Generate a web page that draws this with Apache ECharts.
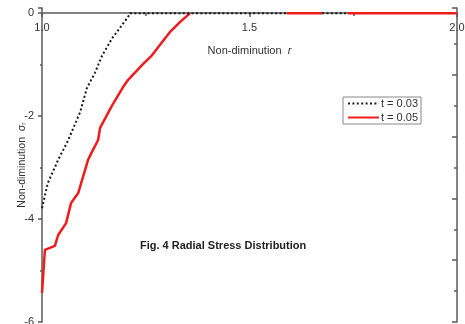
<!DOCTYPE html>
<html>
<head>
<meta charset="utf-8">
<script src="https://cdn.jsdelivr.net/npm/echarts@6/dist/echarts.min.js"></script>
<style>html,body{margin:0;padding:0;background:#fff;}#c{width:465px;height:324px;}</style>
</head>
<body>
<div id="c"></div>
<script>
// Series t = 0.03 (dotted black): [r, sigma_r]
const seriesT003 = [
  [1.000, -3.79], [1.014, -3.30], [1.039, -2.85], [1.063, -2.47], [1.092, -1.92],
  [1.108, -1.46], [1.128, -1.15], [1.145, -0.82], [1.169, -0.49], [1.193, -0.23],
  [1.210, -0.04], [1.212, 0], [1.590, 0], [1.630, '-'], [1.675, 0], [1.737, 0]
];
// Series t = 0.05 (solid red)
const seriesT005 = [
  [1.000, -5.44], [1.007, -4.60], [1.031, -4.52], [1.039, -4.31], [1.058, -4.08],
  [1.070, -3.69], [1.087, -3.50], [1.111, -2.85], [1.120, -2.70], [1.135, -2.47],
  [1.140, -2.23], [1.169, -1.79], [1.195, -1.44], [1.207, -1.30], [1.241, -1.01],
  [1.265, -0.82], [1.284, -0.62], [1.308, -0.37], [1.333, -0.17], [1.357, 0],
  [1.450, '-'], [1.590, 0], [1.675, 0], [1.700, '-'], [1.737, 0], [2.000, 0]
];
const seriesNames = ['t = 0.03', 't = 0.05'];
const xTicks = { min: 1.0, max: 2.0, interval: 0.5 };
const yTicks = { min: -6, max: 0.1, interval: 2 };
const chartTitle = 'Fig. 4 Radial Stress Distribution';

const FONT = '"Liberation Sans", Arial, sans-serif';
const AX = '#5a5a5a';
const chart = echarts.init(document.getElementById('c'));
chart.setOption({
  animation: false,
  textStyle: { fontFamily: FONT },
  grid: { left: 42, right: 8, top: 8, bottom: 2, containLabel: false, outerBoundsMode: 'none' },
  title: {
    text: chartTitle, left: 140, top: 240, padding: 0,
    textStyle: { fontSize: 11, fontWeight: 'bold', color: '#222', fontFamily: FONT }
  },
  legend: {
    orient: 'vertical', left: 343, top: 97,
    data: seriesNames,
    itemWidth: 31, itemHeight: 12, itemGap: 3,
    padding: [1, 3, 1, 4],
    borderColor: '#888', borderWidth: 1,
    itemStyle: { opacity: 0 },
    textStyle: { fontSize: 11, color: '#333', fontFamily: FONT, padding: [0, 0, 0, -3] }
  },
  xAxis: {
    type: 'value', min: xTicks.min, max: xTicks.max, interval: xTicks.interval,
    position: 'top', offset: -5,
    axisLine: { onZero: false, lineStyle: { color: AX, width: 1.5 } },
    axisTick: { show: true, inside: true, length: 4, lineStyle: { color: AX, width: 1.5 } },
    minorTick: { show: true, splitNumber: 2, length: 3, lineStyle: { color: AX, width: 1.5 } },
    splitLine: { show: false },
    axisLabel: { inside: true, fontSize: 11, color: '#333', margin: 9, formatter: v => v.toFixed(1) },
    name: 'Non-diminution  {it|r}', nameLocation: 'middle', nameGap: -43, nameMoveOverlap: false,
    nameTextStyle: { fontSize: 11, color: '#333', rich: { it: { fontStyle: 'italic', fontSize: 11, color: '#333' } } }
  },
  yAxis: [{
    type: 'value', min: yTicks.min, max: yTicks.max, interval: yTicks.interval,
    position: 'left',
    axisLine: { show: true, onZero: false, lineStyle: { color: AX, width: 1.5 } },
    axisTick: { show: true, length: 4, lineStyle: { color: AX, width: 1.5 } },
    minorTick: { show: true, splitNumber: 2, length: 2, lineStyle: { color: AX, width: 1.5 } },
    splitLine: { show: false },
    axisLabel: {
      fontSize: 11, color: '#333', margin: 8,
      formatter: v => (Math.abs(v - Math.round(v)) < 1e-6 ? String(Math.round(v)) : '')
    },
    name: 'Non-diminution  σ{sub|r}', nameLocation: 'middle', nameGap: 14, nameMoveOverlap: false,
    nameTextStyle: { fontSize: 10.5, color: '#333', rich: { sub: { fontSize: 7, color: '#555', verticalAlign: 'bottom' } } }
  }, {
    type: 'value', min: yTicks.min, max: yTicks.max, interval: 1.2,
    position: 'right',
    axisLine: { show: true, onZero: false, lineStyle: { color: AX, width: 1.5 } },
    axisTick: { show: true, inside: true, length: 5, lineStyle: { color: AX, width: 1.5 } },
    minorTick: { show: true, splitNumber: 2, length: 3, lineStyle: { color: AX, width: 1.5 } },
    splitLine: { show: false },
    axisLabel: { show: false }
  }],
  series: [{
    name: seriesNames[0], type: 'line', data: seriesT003, showSymbol: false, symbol: 'none',
    connectNulls: false, z: 3,
    lineStyle: { color: '#1a1a1a', width: 2, type: [2, 2.4] },
    itemStyle: { color: '#1a1a1a' }
  }, {
    name: seriesNames[1], type: 'line', data: seriesT005, showSymbol: false, symbol: 'none',
    connectNulls: false, z: 2,
    lineStyle: { color: '#ee1c1c', width: 2.5 },
    itemStyle: { color: '#ee1c1c' }
  }]
});
</script>
</body>
</html>
